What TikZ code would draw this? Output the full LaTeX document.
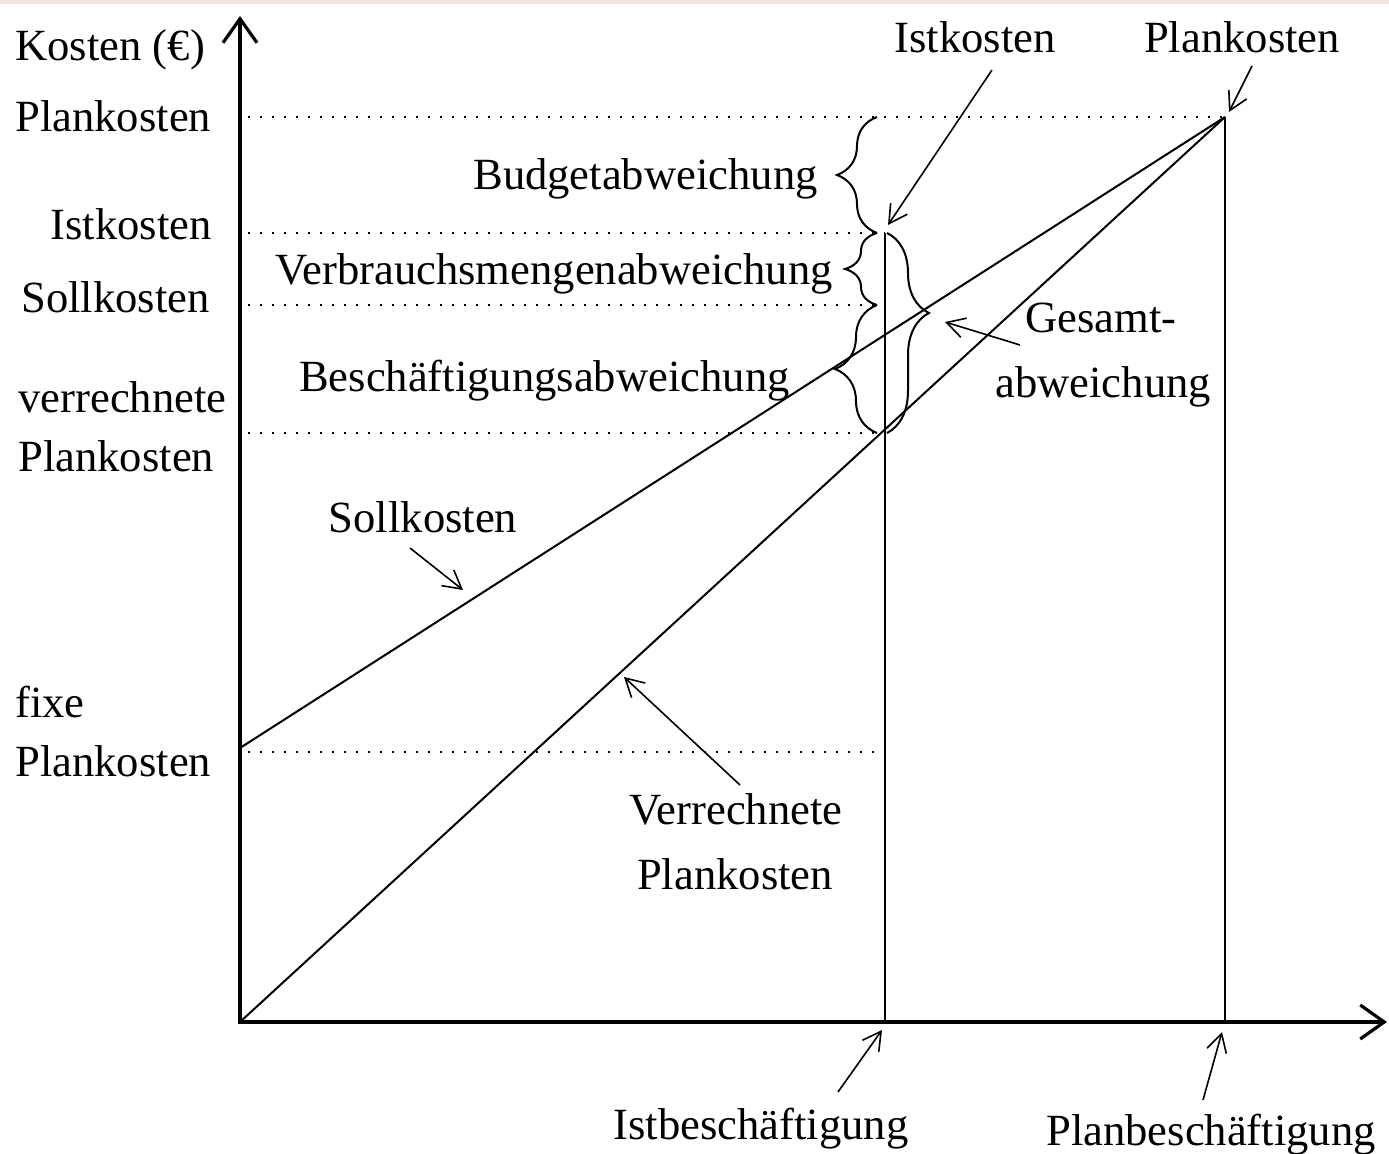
\documentclass[tikz,border=0pt]{standalone}
\usepackage{fontspec}
\setmainfont{Liberation Serif}
\usetikzlibrary{arrows.meta,decorations.pathreplacing}
\definecolor{pinkband}{RGB}{242,228,222}
\begin{document}
\begin{tikzpicture}[x=0.5pt,y=-0.5pt,
  lbl/.style={font=\fontsize{22.3}{27}\selectfont, inner sep=0pt},
  axisline/.style={line width=2.2pt, -{Straight Barb[length=12pt,width=17pt,line width=1.6pt]}},
  costline/.style={line width=1pt},
  guide/.style={line width=1.1pt, dash pattern=on 1.1pt off 4.9pt},
  pointer/.style={line width=0.8pt, -{Straight Barb[length=9pt,width=10pt,line width=0.8pt]}},
  bracefig/.style={line width=1pt, decorate, decoration={brace, amplitude=#1}},
]
\fill[white] (0,0) rectangle (1389,1154);
\fill[pinkband] (0,0) rectangle (1389,4);
\useasboundingbox (0,0) rectangle (1389,1154);

% key points
\coordinate (O) at (240,1022);
\coordinate (P) at (1225,117);
\coordinate (F) at (240,748);
\coordinate (Pbot) at (1225,1022);
\coordinate (Itop) at (885,233);
\coordinate (Ibot) at (885,1022);
\coordinate (ytip) at (240,16);
\coordinate (xtip) at (1387,1022);

% dotted guide lines
\coordinate (g1a) at (248,117);
\coordinate (g2a) at (248,233); \coordinate (g2b) at (885,233);
\coordinate (g3a) at (248,305); \coordinate (g3b) at (880,305);
\coordinate (g4a) at (248,433); \coordinate (g4b) at (885,433);
\coordinate (g5a) at (248,752); \coordinate (g5b) at (875,752);
\draw[guide] (g1a) -- (P);
\draw[guide] (g2a) -- (g2b);
\draw[guide] (g3a) -- (g3b);
\draw[guide] (g4a) -- (g4b);
\draw[guide] (g5a) -- (g5b);

% cost lines
\draw[costline] (F) -- (P);
\draw[costline] (O) -- (P);
\draw[costline] (P) -- (Pbot);
\draw[costline] (Itop) -- (Ibot);

% axes
\draw[axisline] (240,1023) -- (ytip);
\draw[axisline] (238,1022) -- (xtip);

% braces
\draw[bracefig=20pt] (877,233) -- (877,117);
\draw[bracefig=16pt] (877,305) -- (877,233);
\draw[bracefig=21pt] (877,433) -- (877,305);
\draw[bracefig=21pt, decoration={aspect=0.4}] (887,233) -- (887,433);

% left axis labels
\node[lbl, anchor=base west] (kosten) at (15,61) {Kosten (€)};
\node[lbl, anchor=base west] (plank1) at (15,132) {Plankosten};
\node[lbl, anchor=base east] (istk1) at (212,240) {Istkosten};
\node[lbl, anchor=base east] (sollk1) at (210,313) {Sollkosten};
\node[lbl, anchor=base west] (verr1) at (18,413) {verrechnete};
\node[lbl, anchor=base west] (plank2) at (18,472) {Plankosten};
\node[lbl, anchor=base west] (fixe) at (15,718) {fixe};
\node[lbl, anchor=base west] (plank3) at (15,777) {Plankosten};

% top labels
\node[lbl, anchor=base] (istktop) at (975,53) {Istkosten};
\node[lbl, anchor=base] (planktop) at (1242,53) {Plankosten};

% deviation labels
\node[lbl, anchor=base east] (budget) at (818,190) {Budgetabweichung};
\node[lbl, anchor=base east] (verbrauch) at (833,285) {Verbrauchsmengenabweichung};
\node[lbl, anchor=base east] (besch) at (790,392) {Beschäftigungsabweichung};
\node[lbl, anchor=base west] (gesamt1) at (1025,333) {Gesamt-};
\node[lbl, anchor=base west] (gesamt2) at (995,398) {abweichung};

% curve labels
\node[lbl, anchor=base] (sollmid) at (423,533) {Sollkosten};
\node[lbl, anchor=base] (verrmid1) at (736,825) {Verrechnete};
\node[lbl, anchor=base] (verrmid2) at (735,890) {Plankosten};

% bottom labels
\node[lbl, anchor=base] (istb) at (761,1140) {Istbeschäftigung};
\node[lbl, anchor=base] (planb) at (1211,1145) {Planbeschäftigung};

% pointer arrows
\coordinate (a1t) at (992,70);   \coordinate (a1h) at (888,225);
\coordinate (a2t) at (1252,66);  \coordinate (a2h) at (1229,112);
\coordinate (a3t) at (1020,345); \coordinate (a3h) at (945,322);
\coordinate (a4t) at (410,548);  \coordinate (a4h) at (463,590);
\coordinate (a5t) at (740,785);  \coordinate (a5h) at (624,677);
\coordinate (a6t) at (838,1092); \coordinate (a6h) at (882,1030);
\coordinate (a7t) at (1203,1100);\coordinate (a7h) at (1222,1032);
\draw[pointer] (a1t) -- (a1h);
\draw[pointer] (a2t) -- (a2h);
\draw[pointer] (a3t) -- (a3h);
\draw[pointer] (a4t) -- (a4h);
\draw[pointer] (a5t) -- (a5h);
\draw[pointer] (a6t) -- (a6h);
\draw[pointer] (a7t) -- (a7h);
\end{tikzpicture}
\end{document}
